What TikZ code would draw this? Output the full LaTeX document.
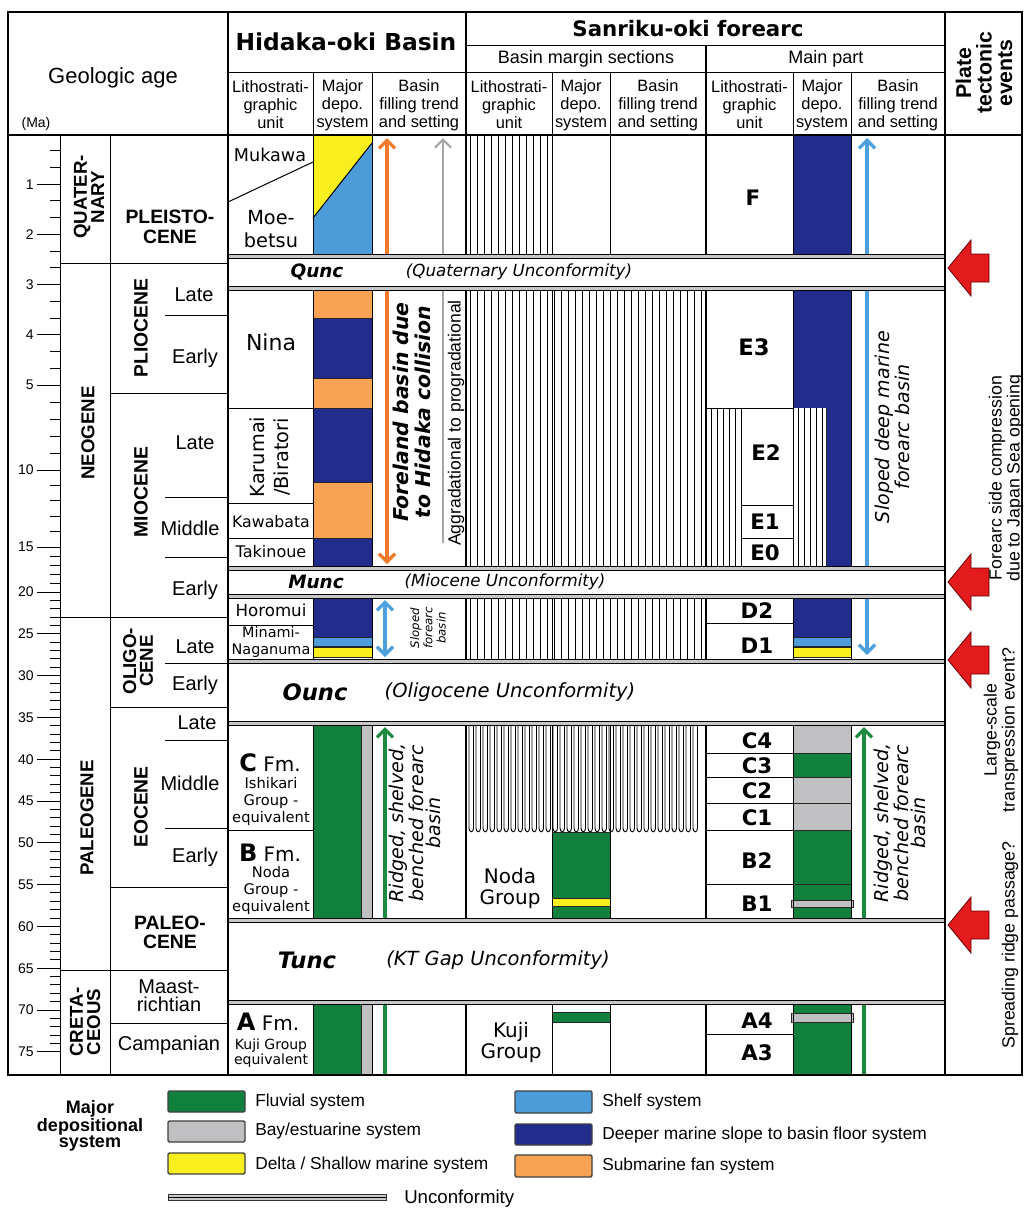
\documentclass[tikz,border=0pt]{standalone}
\usepackage{fontspec}
\setmainfont{Liberation Sans}
\newfontfamily\vd{DejaVu Sans}
\usetikzlibrary{arrows.meta}
\definecolor{navy}{HTML}{222C8D}
\definecolor{shelf}{HTML}{4C9CDA}
\definecolor{dyel}{HTML}{FAEF1E}
\definecolor{fan}{HTML}{F8A253}
\definecolor{fluv}{HTML}{10803C}
\definecolor{bay}{HTML}{C0C0C2}
\definecolor{redarr}{HTML}{E31B1D}
\definecolor{orarr}{HTML}{F27A2B}
\definecolor{grarr}{HTML}{A6A6A6}
\definecolor{blarr}{HTML}{4BA0DD}
\definecolor{gnarr}{HTML}{1C8B3F}
\newcommand\fs[2]{\fontsize{#1pt}{#2pt}\selectfont}
\begin{document}
\begin{tikzpicture}[x=0.75pt,y=-0.75pt,
  >={Straight Barb[length=6pt,width=12pt]},
  frm/.style={line width=2.2pt},
  thk/.style={line width=1.6pt},
  thn/.style={line width=0.75pt},
  hat/.style={line width=0.7pt},
  box/.style={draw=black!85,line width=0.5pt},
  bar/.style={line width=2.5pt},
  sw/.style={draw=black!75,line width=1pt,rounded corners=1pt},
  txt/.style={inner sep=0pt},
  hdr/.style={inner sep=0pt,align=center,font=\fs{12.3}{13.5}},
  unit/.style={inner sep=0pt,font=\vd\bfseries\fs{16}{16}},
  hid/.style={inner sep=0pt,align=center,font=\vd\fs{12}{12.75}},
  per/.style={inner sep=0pt,align=center,rotate=90,font=\bfseries\fs{14}{13}},
  epo/.style={inner sep=0pt,align=center,font=\bfseries\fs{14.5}{14.5}},
  sub/.style={inner sep=0pt,font=\fs{15}{15}},
  uname/.style={inner sep=0pt,font=\vd\bfseries\itshape\fs{13.8}{14}},
  ulab/.style={inner sep=0pt,font=\vd\itshape\fs{12.5}{14}},
  note/.style={inner sep=0pt,align=center,rotate=90,font=\vd\itshape\fs{14.3}{12.9}},
  plt/.style={inner sep=0pt,align=center,rotate=90,font=\fs{13.3}{13.5}},
  leg/.style={inner sep=0pt,anchor=west,font=\fs{13}{13}}
]
\useasboundingbox (0,0) rectangle (1029,1211);
\fill[white] (0,0) rectangle (1029,1211);

% ---------------- Hidaka-oki fills
\fill[dyel] (313,135) -- (372,135) -- (372,143) -- (313,218) -- cycle;
\fill[shelf] (313,218) -- (372,143) -- (372,254) -- (313,254) -- cycle;
\draw[thn] (313,218) -- (372,143);
\foreach \t/\b/\cc in {290/318/fan,318/378/navy,378/408/fan,408/482/navy,482/538/fan,538/566/navy}
  \filldraw[box,fill=\cc] (313,\t) rectangle (372,\b);
\foreach \xa/\xb in {313/372,793/851}{
  \filldraw[box,fill=navy] (\xa,598) rectangle (\xb,637);
  \filldraw[box,fill=shelf] (\xa,637) rectangle (\xb,646);
  \filldraw[box,fill=dyel] (\xa,647) rectangle (\xb,657);
}
\foreach \t/\b in {725/918,1004/1075}{
  \fill[fluv] (313,\t) rectangle (361,\b);
  \fill[bay] (361,\t) rectangle (372,\b);
  \draw[box] (361,\t) -- (361,\b);
}

% ---------------- Sanriku main part fills
\fill[navy] (793,135) rectangle (851,254);
\fill[navy] (793,290) rectangle (851,408);
\fill[navy] (826,408) rectangle (851,566);
\draw[box] (826,408) -- (826,566);
\filldraw[box,fill=bay] (793,725) rectangle (851,753);
\filldraw[box,fill=fluv] (793,753) rectangle (851,777);
\filldraw[box,fill=bay] (793,777) rectangle (851,830);
\draw[box] (793,803) -- (851,803);
\filldraw[box,fill=fluv] (793,830) rectangle (851,918);
\draw[box] (793,884) -- (851,884);
\filldraw[box,fill=bay] (791,900) rectangle (853,907);
\fill[fluv] (793,1004) rectangle (851,1075);
\filldraw[box,fill=bay] (791,1013) rectangle (853,1022);

% ---------------- Sanriku margin fills
\filldraw[box,fill=fluv] (552,832) rectangle (610,918);
\filldraw[box,fill=dyel] (552,898) rectangle (610,906);
\filldraw[box,fill=fluv] (552,1012) rectangle (610,1022);

% ---------------- hatching
\foreach \x in {470,477,...,548} \draw[hat] (\x,135) -- (\x,254);
\foreach \x in {470,477,...,703}{
  \draw[hat] (\x,290) -- (\x,566);
  \draw[hat] (\x,598) -- (\x,659);
}
\foreach \x in {469,476,...,699}
  \draw[hat] (\x,725) -- (\x,828) .. controls (\x,833) and ({\x+4.5},833) .. ({\x+4.5},828) -- ({\x+4.5},725);
\foreach \x in {711,717,...,737} \draw[hat] (\x,408) -- (\x,566);
\foreach \x in {798,804,...,822} \draw[hat] (\x,408) -- (\x,566);

% ---------------- arrows (basin filling trends)
\coordinate (oa1) at (387,138); \coordinate (oa2) at (387,564);
\draw[bar,orarr,<->] (oa1) -- (oa2);
\coordinate (ga1) at (443,543); \coordinate (ga2) at (443,138);
\draw[line width=1.6pt,grarr,->] (ga1) -- (ga2);
\coordinate (ba1) at (385,600); \coordinate (ba2) at (385,657);
\draw[bar,blarr,<->] (ba1) -- (ba2);
\coordinate (gh1) at (385,920); \coordinate (gh2) at (385,727);
\draw[bar,gnarr,->] (gh1) -- (gh2);
\coordinate (gh3) at (385,1004); \coordinate (gh4) at (385,1075);
\draw[bar,gnarr] (gh3) -- (gh4);
\coordinate (bm1) at (867,138); \coordinate (bm2) at (867,655);
\draw[bar,blarr,<->] (bm1) -- (bm2);
\coordinate (gm1) at (864,920); \coordinate (gm2) at (864,727);
\draw[bar,gnarr,->] (gm1) -- (gm2);
\coordinate (gm3) at (864,1004); \coordinate (gm4) at (864,1075);
\draw[bar,gnarr] (gm3) -- (gm4);

% ---------------- section dividers
\foreach \t/\b in {135/254,290/566,598/659,725/918,1004/1075}{
  \draw[thk] (466,\t) -- (466,\b) (706,\t) -- (706,\b);
  \foreach \x in {313,372,552,610,793,851} \draw[thn] (\x,\t) -- (\x,\b);
}
% unit boundaries
\draw[thn] (228,202) -- (313,162);
\foreach \y in {408,503,538,625,830} \draw[thn] (228,\y) -- (313,\y);
\draw[thn] (706,408) -- (793,408) (741,408) -- (741,566) (741,505) -- (793,505) (741,538) -- (793,538);
\foreach \y in {623,753,777,803,830,884,1034} \draw[thn] (706,\y) -- (793,\y);

% ---------------- unconformity bands
\foreach \t/\b in {254/290,566/598,659/725,918/1004}{
  \fill[white] (228,\t) rectangle (945,\b);
  \filldraw[fill=black!22,draw=black,line width=0.6pt] (228,\t) rectangle (945,{\t+4});
  \filldraw[fill=black!22,draw=black,line width=0.6pt] (228,{\b-4}) rectangle (945,\b);
}

% ---------------- geologic age column
\draw[thn] (60,135) -- (60,1075) (110,135) -- (110,1075);
\foreach \y in {263,617,970} \draw[thn] (60,\y) -- (228,\y);
\foreach \y in {393,707,887,1023} \draw[thn] (110,\y) -- (228,\y);
\foreach \y in {315,497,557,663,740,828} \draw[thn] (165,\y) -- (228,\y);
% ticks
\foreach \i in {1,...,15} \draw[thn] (50,{134+50.2*\i/3}) -- (60,{134+50.2*\i/3});
\foreach \i in {6,...,10} \draw[thn] (50,{385+17*(\i-5)}) -- (60,{385+17*(\i-5)});
\foreach \i in {11,...,15} \draw[thn] (50,{470+15.4*(\i-10)}) -- (60,{470+15.4*(\i-10)});
\foreach \i in {16,...,20} \draw[thn] (50,{547+9*(\i-15)}) -- (60,{547+9*(\i-15)});
\foreach \i in {21,...,75} \draw[thn] (50,{592+8.36*(\i-20)}) -- (60,{592+8.36*(\i-20)});
\foreach \m/\y in {1/184.2,2/234.4,3/284.6,4/334.8,5/385,10/470,15/547,20/592,25/633.8,30/675.6,35/717.4,40/759.2,45/801,50/842.8,55/884.6,60/926.4,65/968.2,70/1010,75/1051.8}{
  \draw[thn] (37,\y) -- (60,\y);
  \node[inner sep=0pt,anchor=east,font=\fs{10.5}{10.5}] (tk\m) at (34,\y) {\m};
}

% ---------------- header frame
\draw[thk] (8,135) -- (1022,135);
\draw[thk] (228,12) -- (228,1075) (945,12) -- (945,1075) (466,12) -- (466,135) (706,45) -- (706,135);
\draw[thn] (466,45) -- (945,45) (228,72) -- (945,72);
\foreach \x in {313,372,552,610,793,851} \draw[thn] (\x,72) -- (\x,135);
\draw[frm] (8,12) rectangle (1022,1075);

% ---------------- red event arrows
\foreach \cy in {268,582,660,925}
  \filldraw[fill=redarr,draw=red!40!black,line width=0.6pt] (948,\cy) -- (971,{\cy-28}) -- (971,{\cy-14}) -- (989,{\cy-14}) -- (989,{\cy+14}) -- (971,{\cy+14}) -- (971,{\cy+28}) -- cycle;

% ---------------- header texts
\node[inner sep=0pt,font=\fs{16.5}{16.5}] (geo) at (113,78) {Geologic age};
\node[inner sep=0pt,font=\fs{10.5}{10.5}] (ma) at (36,124) {(Ma)};
\node[inner sep=0pt,font=\vd\bfseries\fs{17.5}{17.5}] (hid) at (346,42) {Hidaka-oki Basin};
\node[inner sep=0pt,font=\vd\bfseries\fs{16}{16}] (san) at (688,29) {Sanriku-oki forearc};
\node[inner sep=0pt,font=\fs{13.5}{13.5}] (bms) at (586,59) {Basin margin sections};
\node[inner sep=0pt,font=\fs{13.5}{13.5}] (mpt) at (826,59) {Main part};
\node[inner sep=0pt,align=center,rotate=90,font=\bfseries\fs{16}{15.4}] (pte) at (984,73) {Plate\\tectonic\\events};
\foreach \xl/\xd/\xf/\nm in {270.5/342.5/419/h,509/581/658/m,749.5/822/898/p}{
  \node[hdr] (lit\nm) at (\xl,105) {Lithostrati-\\graphic\\unit};
  \node[hdr] (dep\nm) at (\xd,105) {Major\\depo.\\system};
  \node[hdr] (fil\nm) at (\xf,105) {Basin\\filling trend\\and setting};
}

% ---------------- geologic age texts
\node[per] (quat) at (89,197) {QUATER-\\NARY};
\node[per] (neog) at (88,433) {NEOGENE};
\node[per] (paleog) at (87,818) {PALEOGENE};
\node[per] (cret) at (85,1022) {CRETA-\\CEOUS};
\node[epo] (pleis) at (170,227) {PLEISTO-\\CENE};
\node[epo,rotate=90] (plio) at (141,328) {PLIOCENE};
\node[epo,rotate=90] (mioc) at (141,492) {MIOCENE};
\node[epo,rotate=90,font=\bfseries\fs{14}{12.5}] (olig) at (138,661) {OLIGO-\\CENE};
\node[epo,rotate=90] (eoc) at (141,807) {EOCENE};
\node[epo] (paleoc) at (170,932) {PALEO-\\CENE};
\node[sub] (s1) at (194,295) {Late};
\node[sub] (s2) at (195,358) {Early};
\node[sub] (s3) at (195,443) {Late};
\node[sub] (s4) at (190,528) {Middle};
\node[sub] (s5) at (195,590) {Early};
\node[sub] (s6) at (195,647) {Late};
\node[sub] (s7) at (195,685) {Early};
\node[sub] (s8) at (197,723) {Late};
\node[sub] (s9) at (190,783) {Middle};
\node[sub] (s10) at (195,857) {Early};
\node[sub,align=center,font=\fs{15}{13.5}] (maas) at (169,996) {Maast-\\richtian};
\node[sub] (camp) at (169,1045) {Campanian};

% ---------------- Hidaka-oki texts
\node[hid,font=\vd\fs{13.2}{13.2}] (muk) at (270,155) {Mukawa};
\node[hid,font=\vd\fs{14.5}{17}] (moe) at (271,229) {Moe-\\betsu};
\node[hid,font=\vd\fs{16.5}{16.5}] (nina) at (271,342) {Nina};
\node[hid,rotate=90,font=\vd\fs{14.5}{18.5}] (kar) at (270,457) {Karumai\\/Biratori};
\node[hid,font=\vd\fs{11.8}{12}] (kaw) at (271,522) {Kawabata};
\node[hid,font=\vd\fs{12}{12}] (tak) at (271,552) {Takinoue};
\node[hid,font=\vd\fs{12.5}{12.5}] (hor) at (271,610) {Horomui};
\node[hid,font=\vd\fs{10.8}{12.5}] (minn) at (271,642) {Minami-\\Naganuma};
\node[hid,font=\vd\fs{15}{15}] (cfm) at (270,763) {{\bfseries\fs{18}{18}C} Fm.};
\node[hid,font=\vd\fs{11}{12.75}] (ish) at (271,801) {Ishikari\\Group -\\equivalent};
\node[hid,font=\vd\fs{15}{15}] (bfm) at (270,853) {{\bfseries\fs{18}{18}B} Fm.};
\node[hid,font=\vd\fs{11}{12.75}] (nodaeq) at (271,890) {Noda\\Group -\\equivalent};
\node[hid,font=\vd\fs{15}{15}] (afm) at (268,1022) {{\bfseries\fs{18}{18}A} Fm.};
\node[hid,font=\vd\fs{10.5}{9}] (kujieq) at (271,1053) {Kuji Group\\equivalent};
\node[inner sep=0pt,align=center,rotate=90,font=\vd\bfseries\itshape\fs{15.3}{16.5}] (forl) at (412,412) {Foreland basin due\\to Hidaka collision};
\node[inner sep=0pt,rotate=90,font=\fs{13.2}{13.2}] (aggr) at (456,423) {Aggradational to progradational};
\node[note,font=\vd\itshape\fs{8.8}{10}] (slp) at (428,628) {Sloped\\forearc\\basin};
\node[note] (rdg1) at (415,823) {Ridged, shelved,\\benched forearc\\basin};

% ---------------- unconformity labels
\node[uname] (qunc) at (317,272) {Qunc};
\node[ulab] (qtxt) at (519,272) {(Quaternary Unconformity)};
\node[uname] (munc) at (316,582) {Munc};
\node[ulab] (mtxt) at (505,582) {(Miocene Unconformity)};
\node[uname,font=\vd\bfseries\itshape\fs{17}{17}] (ounc) at (315,692) {Ounc};
\node[ulab,font=\vd\itshape\fs{14.6}{14.6}] (otxt) at (510,692) {(Oligocene Unconformity)};
\node[uname,font=\vd\bfseries\itshape\fs{17}{17}] (tunc) at (307,960) {Tunc};
\node[ulab,font=\vd\itshape\fs{14.6}{14.6}] (ttxt) at (498,960) {(KT Gap Unconformity)};

% ---------------- Sanriku texts
\node[hid,font=\vd\fs{15}{15.75}] (noda) at (510,888) {Noda\\Group};
\node[hid,font=\vd\fs{15}{15.75}] (kujig) at (511,1042) {Kuji\\Group};
\node[unit] (uF) at (753,198) {F};
\node[unit,font=\vd\bfseries\fs{17}{17}] (uE3) at (754,347) {E3};
\node[unit] (uE2) at (766,453) {E2};
\node[unit] (uE1) at (765,522) {E1};
\node[unit] (uE0) at (765,553) {E0};
\node[unit] (uD2) at (757,611) {D2};
\node[unit] (uD1) at (757,646) {D1};
\node[unit] (uC4) at (757,741) {C4};
\node[unit] (uC3) at (757,766) {C3};
\node[unit] (uC2) at (757,791) {C2};
\node[unit] (uC1) at (757,818) {C1};
\node[unit] (uB2) at (757,861) {B2};
\node[unit] (uB1) at (757,904) {B1};
\node[unit] (uA4) at (757,1021) {A4};
\node[unit] (uA3) at (757,1053) {A3};
\node[note] (sdm) at (892,427) {Sloped deep marine\\forearc basin};
\node[note] (rdg2) at (900,823) {Ridged, shelved,\\benched forearc\\basin};

% ---------------- plate tectonic events texts
\node[plt] (fsc) at (1006,478) {Forearc side compression\\due to Japan Sea opening};
\node[plt] (lst) at (1001,730) {Large-scale\\transpression event?};
\node[plt] (srp) at (1010,945) {Spreading ridge passage?};

% ---------------- legend
\node[inner sep=0pt,align=center,font=\bfseries\fs{13.5}{12.4}] (legt) at (90,1126) {Major\\depositional\\system};
\filldraw[sw,fill=fluv] (168,1091) rectangle (245,1112);
\filldraw[sw,fill=bay] (168,1121) rectangle (245,1142);
\filldraw[sw,fill=dyel] (168,1153) rectangle (245,1174);
\filldraw[sw,fill=shelf] (515,1091) rectangle (592,1113);
\filldraw[sw,fill=navy] (515,1124) rectangle (592,1145);
\filldraw[sw,fill=fan] (515,1155) rectangle (592,1177);
\node[leg] (l1) at (255,1102) {Fluvial system};
\node[leg] (l2) at (255,1131) {Bay/estuarine system};
\node[leg] (l3) at (255,1165) {Delta / Shallow marine system};
\node[leg] (l4) at (602,1102) {Shelf system};
\node[leg] (l5) at (602,1135) {Deeper marine slope to basin floor system};
\node[leg] (l6) at (602,1166) {Submarine fan system};
\filldraw[fill=black!22,draw=black!80,line width=0.6pt] (168,1194) rectangle (386,1200);
\draw[line width=0.6pt] (168,1197) -- (386,1197);
\node[leg,font=\fs{14}{14}] (l7) at (404,1199) {Unconformity};
\end{tikzpicture}
\end{document}
